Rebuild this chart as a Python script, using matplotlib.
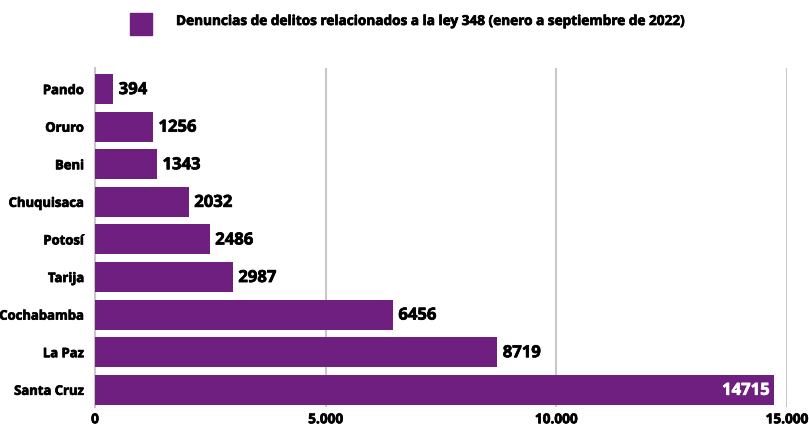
import matplotlib.pyplot as plt
import matplotlib.patheffects as pe
from matplotlib.patches import Rectangle

plt.rcParams['font.family'] = ['Open Sans', 'DejaVu Sans']

departamentos = ["Pando", "Oruro", "Beni", "Chuquisaca", "Potosí", "Tarija",
                 "Cochabamba", "La Paz", "Santa Cruz"]
denuncias = [394, 1256, 1343, 2032, 2486, 2987, 6456, 8719, 14715]
xticks = [0, 5000, 10000, 15000]
xtick_labels = ["0", "5.000", "10.000", "15.000"]
serie = "Denuncias de delitos relacionados a la ley 348 (enero a septiembre de 2022)"

color = "#6E1F80"
peso = 'bold'


def grueso(c):
    # engrosar un poco el trazo, el original usa una fuente extra negrita
    return [pe.Stroke(linewidth=0.5, foreground=c), pe.Normal()]


fig = plt.figure(figsize=(8.09, 4.25), dpi=100)
ax = fig.add_axes([0.1174, 0.043, 0.8554, 0.796])

y = range(len(departamentos))
ax.barh(y, denuncias, height=0.8, color=color, zorder=3)
ax.set_ylim(8.45, -0.55)
ax.set_xlim(0, 15000)

for i, v in enumerate(denuncias):
    if v > 12000:
        ax.text(v - 0, i, str(v) + " ", ha='right', va='center', color='white',
                fontsize=12, fontweight=peso, zorder=4, path_effects=grueso('white'))
    else:
        ax.text(v + 120, i, str(v), ha='left', va='center', color='black',
                fontsize=12, fontweight=peso, zorder=4, path_effects=grueso('black'))

ax.set_yticks(list(y))
ax.set_yticklabels(departamentos, fontsize=9.4, fontweight=peso)
ax.set_xticks(xticks)
ax.set_xticklabels(xtick_labels, fontsize=9.8, fontweight=peso)
for t in ax.get_yticklabels() + ax.get_xticklabels():
    t.set_path_effects(grueso('black'))
ax.tick_params(length=0)
ax.tick_params(axis='y', pad=8)
ax.tick_params(axis='x', pad=4)

ax.grid(axis='x', color='#c8c8c8', linewidth=1.5, zorder=0)
for s in ['top', 'right', 'bottom']:
    ax.spines[s].set_visible(False)
ax.spines['left'].set_color('#c8c8c8')
ax.spines['left'].set_linewidth(1.5)

# leyenda
fig.patches.append(Rectangle((130 / 809, 1 - 35 / 425), 22 / 809, 22 / 425,
                             transform=fig.transFigure, color=color))
fig.text(176 / 809, 1 - 21 / 425, serie, fontsize=9.8, fontweight=peso,
         va='center', ha='left', path_effects=grueso('black'))

plt.savefig('out.png', dpi=100)
